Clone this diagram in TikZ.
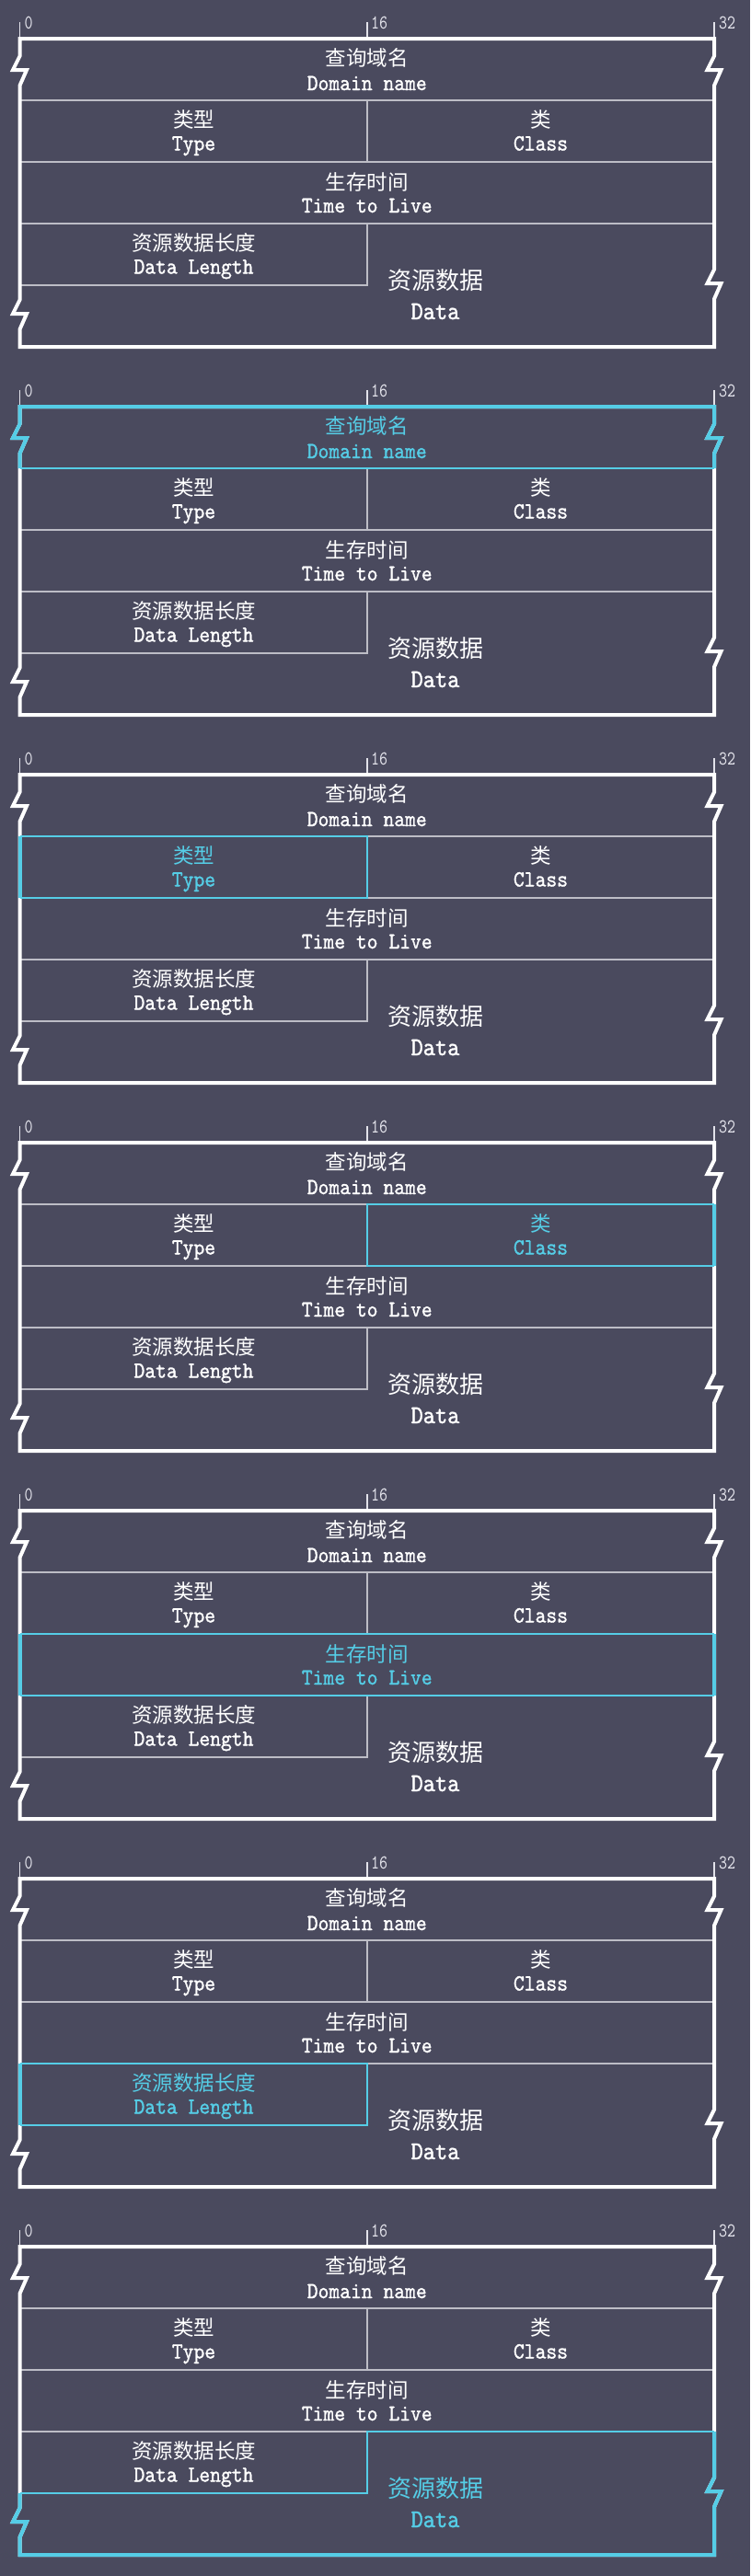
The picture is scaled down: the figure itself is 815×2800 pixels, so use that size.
\documentclass[tikz,border=0pt]{standalone}
\usepackage{fontspec}
\newfontfamily\cjk{Noto Sans CJK SC}
\newfontfamily\monob{lmmono10-regular}[Extension=.otf, FakeBold=1.2, FakeStretch=0.9]
\newfontfamily\monot{lmmono10-regular}[Extension=.otf, FakeStretch=0.8]
\definecolor{bg}{HTML}{4A4A5E}
\definecolor{hl}{HTML}{55CDE6}
\definecolor{fg}{HTML}{FFFFFF}
\definecolor{inner}{HTML}{BDBDC6}
\definecolor{tick}{HTML}{E2E2EA}
\tikzset{
  thickline/.style={line width=4pt, line join=miter},
  thinline/.style={line width=1.5pt, color=inner},
  hlthick/.style={line width=4pt, line join=miter, color=hl},
  hlthin/.style={line width=1.5pt, color=hl},
  cjktext/.style={inner sep=0pt, font=\cjk\fontsize{22.5}{26}\selectfont},
  latintext/.style={inner sep=0pt, anchor=base, font=\monob\fontsize{25}{28}\selectfont},
  bigcjk/.style={inner sep=0pt, font=\cjk\fontsize{26}{30}\selectfont},
  biglatin/.style={inner sep=0pt, anchor=base, font=\monob\fontsize{28}{32}\selectfont},
  ticklabel/.style={inner sep=0pt, anchor=base west, text=tick, font=\monot\fontsize{21.5}{24}\selectfont},
}
\def\Lx{21.5}
\def\Rx{776}
\def\Mx{399}
\begin{document}
\begin{tikzpicture}[x=1pt,y=-1pt]
\fill[bg] (0,0) rectangle (815,2800);
\useasboundingbox (0,0) rectangle (815,2800);
\foreach \k/\ca/\cb/\cc/\cd/\ce/\cf in {0/fg/fg/fg/fg/fg/fg,1/hl/fg/fg/fg/fg/fg,2/fg/hl/fg/fg/fg/fg,3/fg/fg/hl/fg/fg/fg,4/fg/fg/fg/hl/fg/fg,5/fg/fg/fg/fg/hl/fg,6/fg/fg/fg/fg/fg/hl}{
\begin{scope}[shift={(0,400*\k)}]
  % ticks and bit labels
  \draw[line width=1.5pt, tick] (\Lx,24) -- (\Lx,42);
  \draw[line width=1.5pt, tick] (\Mx,24) -- (\Mx,42);
  \draw[line width=1.5pt, tick] (\Rx,24) -- (\Rx,42);
  \node[ticklabel] (b0\k) at (\Lx+5,31.5) {0};
  \node[ticklabel] (b16\k) at (\Mx+4,31.5) {16};
  \node[ticklabel] (b32\k) at (\Rx+5,31.5) {32};
  % inner lines
  \draw[thinline] (\Lx,109) -- (\Rx,109);
  \draw[thinline] (\Lx,176) -- (\Rx,176);
  \draw[thinline] (\Lx,243) -- (\Rx,243);
  \draw[thinline] (\Mx,109) -- (\Mx,176);
  \draw[thinline] (\Lx,310) -- (\Mx,310) -- (\Mx,243);
  % outline with breaks
  \draw[thickline, fg] (\Lx,42) -- (\Rx,42) -- (\Rx,61) -- (\Rx-7.5,76) -- (\Rx+7.5,76) -- (\Rx,93)
     -- (\Rx,293) -- (\Rx-7.5,308) -- (\Rx+7.5,308) -- (\Rx,325) -- (\Rx,377)
     -- (\Lx,377) -- (\Lx,358) -- (\Lx+7.5,341) -- (\Lx-7.5,341) -- (\Lx,326)
     -- (\Lx,93) -- (\Lx+7.5,76) -- (\Lx-7.5,76) -- (\Lx,61) -- cycle;
  % highlights
  \ifcase\k
  \or
    \draw[hlthin] (\Lx,109) -- (\Rx,109);
    \draw[hlthick] (\Lx,109) -- (\Lx,93) -- (\Lx+7.5,76) -- (\Lx-7.5,76) -- (\Lx,61) -- (\Lx,42)
       -- (\Rx,42) -- (\Rx,61) -- (\Rx-7.5,76) -- (\Rx+7.5,76) -- (\Rx,93) -- (\Rx,109);
  \or
    \draw[hlthin] (\Lx,109) -- (\Mx,109) -- (\Mx,176) -- (\Lx,176);
    \draw[hlthick] (\Lx,109) -- (\Lx,176);
  \or
    \draw[hlthin] (\Rx,109) -- (\Mx,109) -- (\Mx,176) -- (\Rx,176);
    \draw[hlthick] (\Rx,109) -- (\Rx,176);
  \or
    \draw[hlthin] (\Lx,176) -- (\Rx,176);
    \draw[hlthin] (\Lx,243) -- (\Rx,243);
    \draw[hlthick] (\Lx,176) -- (\Lx,243);
    \draw[hlthick] (\Rx,176) -- (\Rx,243);
  \or
    \draw[hlthin] (\Lx,243) -- (\Mx,243) -- (\Mx,310) -- (\Lx,310);
    \draw[hlthick] (\Lx,243) -- (\Lx,310);
  \or
    \draw[hlthin] (\Lx,310) -- (\Mx,310) -- (\Mx,243) -- (\Rx,243);
    \draw[hlthick] (\Rx,243) -- (\Rx,293) -- (\Rx-7.5,308) -- (\Rx+7.5,308) -- (\Rx,325) -- (\Rx,377)
       -- (\Lx,377) -- (\Lx,358) -- (\Lx+7.5,341) -- (\Lx-7.5,341) -- (\Lx,326) -- (\Lx,310);
  \fi
  % texts
  \node[cjktext, text=\ca] (dncn\k) at (398.75,63) {查询域名};
  \node[latintext, text=\ca] (dnen\k) at (398.75,98) {Domain name};
  \node[cjktext, text=\cb] (tycn\k) at (210.5,129.5) {类型};
  \node[latintext, text=\cb] (tyen\k) at (210.5,163.5) {Type};
  \node[cjktext, text=\cc] (clcn\k) at (587.5,129.5) {类};
  \node[latintext, text=\cc] (clen\k) at (587.5,163.5) {Class};
  \node[cjktext, text=\cd] (ttcn\k) at (398.75,198) {生存时间};
  \node[latintext, text=\cd] (tten\k) at (398.75,231) {Time to Live};
  \node[cjktext, text=\ce] (dlcn\k) at (210.5,263.5) {资源数据长度};
  \node[latintext, text=\ce] (dlen\k) at (210.5,297.5) {Data Length};
  \node[bigcjk, text=\cf] (dacn\k) at (473,304.5) {资源数据};
  \node[biglatin, text=\cf] (daen\k) at (473,347) {Data};
\end{scope}
}
\end{tikzpicture}
\end{document}
